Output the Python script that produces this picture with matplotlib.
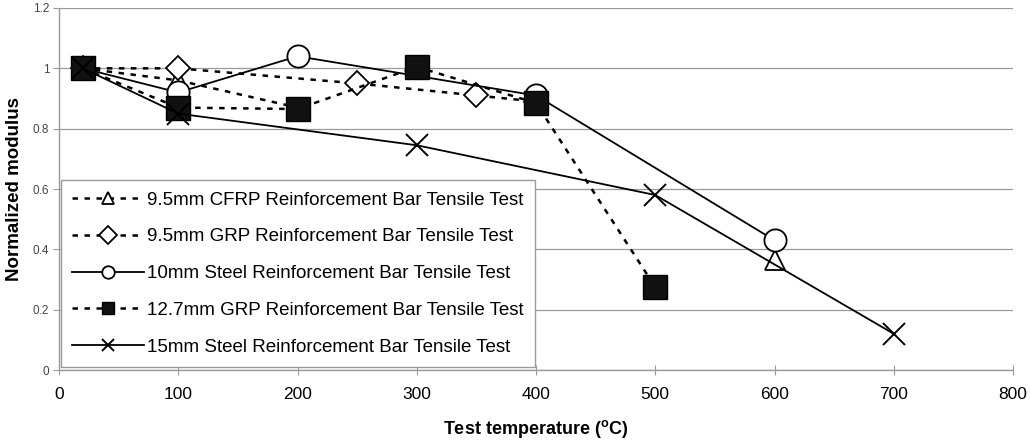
import numpy as np
import matplotlib.pyplot as plt

# data
temp_cfrp = [20, 100, 200, 300, 400, 500, 600]
mod_cfrp = [1.0, 0.96, 0.87, np.nan, np.nan, np.nan, 0.365]

temp_grp95 = [20, 100, 250, 350, 400]
mod_grp95 = [1.0, 1.0, 0.95, 0.91, 0.89]

temp_steel10 = [20, 100, 200, 400, 600]
mod_steel10 = [1.0, 0.92, 1.04, 0.91, 0.43]

temp_grp127 = [20, 100, 200, 300, 400, 500]
mod_grp127 = [1.0, 0.87, 0.865, 1.005, 0.885, 0.275]

temp_steel15 = [20, 100, 300, 500, 700]
mod_steel15 = [1.0, 0.85, 0.745, 0.58, 0.12]

labels = ['9.5mm CFRP Reinforcement Bar Tensile Test',
          '9.5mm GRP Reinforcement Bar Tensile Test',
          '10mm Steel Reinforcement Bar Tensile Test',
          '12.7mm GRP Reinforcement Bar Tensile Test',
          '15mm Steel Reinforcement Bar Tensile Test']

x_ticks = [0, 100, 200, 300, 400, 500, 600, 700, 800]
y_ticks = [0, 0.2, 0.4, 0.6, 0.8, 1.0, 1.2]
y_ticklabels = ['0', '0.2', '0.4', '0.6', '0.8', '1', '1.2']

plt.rcParams['font.family'] = ['Liberation Sans', 'DejaVu Sans']

fig = plt.figure(figsize=(10.30, 4.44), dpi=100)
ax = fig.add_axes([59 / 1030, 1 - 370 / 444, 954 / 1030, 362 / 444])

dots = (0, (2.2, 2.6))
grey = '#9a9a9a'

ax.plot(temp_cfrp, mod_cfrp, color='black', linestyle=dots, linewidth=1.8,
        marker='^', markersize=15, markerfacecolor='white', markeredgecolor='black',
        markeredgewidth=1.3, label=labels[0])
ax.plot(temp_grp95, mod_grp95, color='black', linestyle=dots, linewidth=1.8,
        marker='D', markersize=12, markerfacecolor='white', markeredgecolor='black',
        markeredgewidth=1.3, label=labels[1])
ax.plot(temp_steel10, mod_steel10, color='black', linestyle='-', linewidth=1.3,
        marker='o', markersize=16, markerfacecolor='white', markeredgecolor='black',
        markeredgewidth=1.3, label=labels[2])
ax.plot(temp_grp127, mod_grp127, color='black', linestyle=dots, linewidth=1.8,
        marker='s', markersize=17, markerfacecolor='#111111', markeredgecolor='black',
        markeredgewidth=1.0, label=labels[3])
ax.plot(temp_steel15, mod_steel15, color='black', linestyle='-', linewidth=1.3,
        marker='x', markersize=16, markeredgecolor='black',
        markeredgewidth=1.4, label=labels[4])

ax.set_xlim(0, 800)
ax.set_ylim(0, 1.2)
ax.set_xticks(x_ticks)
ax.set_xticklabels([str(t) for t in x_ticks], fontsize=12.5)
ax.set_yticks(y_ticks)
ax.set_yticklabels(y_ticklabels, fontsize=8.5, color='#444444')
ax.tick_params(axis='x', direction='inout', length=7, color=grey, pad=9)
ax.tick_params(axis='y', direction='out', length=4, color=grey, pad=3)

ax.grid(axis='y', color=grey, linewidth=0.9)
ax.set_axisbelow(True)
for side in ['top', 'right']:
    ax.spines[side].set_visible(False)
for side in ['left', 'bottom']:
    ax.spines[side].set_color(grey)
    ax.spines[side].set_linewidth(1.0)

ax.set_xlabel(r'Test temperature ($^{\mathregular{o}}$C)', fontsize=13,
              fontweight='bold', labelpad=11)
ax.set_ylabel('Normalized modulus', fontsize=13.5, fontweight='bold', labelpad=7)

leg = ax.legend(loc='lower left', bbox_to_anchor=(61 / 1030, 1 - 367 / 444),
                bbox_transform=fig.transFigure, fontsize=13.5, frameon=True,
                fancybox=False, edgecolor=grey, framealpha=1,
                handlelength=3.85, handletextpad=0.16, labelspacing=1.05,
                borderpad=0.6, borderaxespad=0)
leg.get_frame().set_linewidth(1.0)
for h in leg.legend_handles:
    h.set_markersize(9)

fig.savefig('out.png', dpi=100)
